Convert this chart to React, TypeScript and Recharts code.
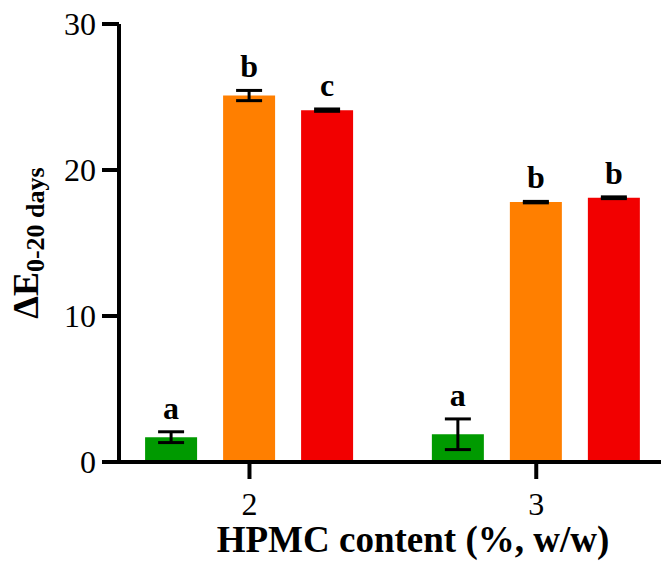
import React from 'react'
import { Bar, BarChart, ErrorBar, LabelList, XAxis, YAxis } from 'recharts'

// HPMC content (%, w/w)
const categories = [2, 3]

const greenValues = [1.7, 1.9]
const greenErrors = [0.37, 1.05]
const greenLetters = ['a', 'a']

const orangeValues = [25.1, 17.8]
const orangeErrors = [0.35, 0.05]
const orangeLetters = ['b', 'b']

const redValues = [24.1, 18.1]
const redErrors = [0.08, 0.06]
const redLetters = ['c', 'b']

const yTicks = [0, 10, 20, 30]

const data = categories.map((cat, i) => ({
  cat,
  green: greenValues[i],
  greenErr: greenErrors[i],
  greenLetter: greenLetters[i],
  orange: orangeValues[i],
  orangeErr: orangeErrors[i],
  orangeLetter: orangeLetters[i],
  red: redValues[i],
  redErr: redErrors[i],
  redLetter: redLetters[i],
}))

const FONT = '"Liberation Serif", "Times New Roman", serif'

// letter sits a little above the top of the error bar
const letterLabel = (values: number[], errors: number[]) => (props: any) => {
  const vb = props.viewBox ?? props
  const { x, y, width, height } = vb
  const i = props.index
  const pxPerUnit = Math.abs(height) / values[i]
  const top = y - errors[i] * pxPerUnit
  return (
    <text
      x={x + width / 2}
      y={top - 13}
      textAnchor="middle"
      fontFamily={FONT}
      fontWeight="bold"
      fontSize={32}
      fill="#000"
    >
      {props.value}
    </text>
  )
}

const YLabel = (props: any) => {
  const { x, y, height } = props.viewBox
  const bx = x + 38
  const cy = y + height / 2
  return (
    <text
      x={bx}
      y={cy}
      transform={`rotate(-90, ${bx}, ${cy})`}
      textAnchor="middle"
      fontFamily={FONT}
      fontWeight="bold"
      fill="#000"
    >
      <tspan fontSize={36}>ΔE</tspan>
      <tspan fontSize={26} dy={6}>0-20 days</tspan>
    </text>
  )
}

const XLabel = (props: any) => {
  const { x, y, width } = props.viewBox
  return (
    <text
      x={x + width / 2 + 23}
      y={y + 90}
      textAnchor="middle"
      fontFamily={FONT}
      fontWeight="bold"
      fontSize={37}
      fill="#000"
    >
      HPMC content (%, w/w)
    </text>
  )
}

const tickStyle = { fontFamily: FONT, fontSize: 32, fill: '#000' }
const axisStroke = { stroke: '#000', strokeWidth: 4 }

export default function App() {
  return (
    <div style={{ position: 'absolute', left: 0, top: 0, background: '#fff' }}>
      <BarChart
        width={662}
        height={564}
        data={data}
        margin={{ top: 24, right: 1, left: 0, bottom: 0 }}
        barGap={26}
      >
        <XAxis
          dataKey="cat"
          type="number"
          domain={[1.545, 3.435]}
          ticks={categories}
          allowDataOverflow
          height={102}
          tickSize={17}
          tickMargin={13}
          tick={tickStyle}
          axisLine={axisStroke}
          tickLine={axisStroke}
          label={<XLabel />}
        />
        <YAxis
          domain={[0, 30]}
          ticks={yTicks}
          width={119}
          tickSize={17}
          tickMargin={6}
          tick={tickStyle}
          axisLine={axisStroke}
          tickLine={axisStroke}
          label={<YLabel />}
        />
        <Bar dataKey="green" fill="#009A00" barSize={52} isAnimationActive={false}>
          <ErrorBar dataKey="greenErr" width={13} stroke="#000" strokeWidth={3} direction="y" />
          <LabelList dataKey="greenLetter" content={letterLabel(greenValues, greenErrors)} />
        </Bar>
        <Bar dataKey="orange" fill="#FF7F00" barSize={52} isAnimationActive={false}>
          <ErrorBar dataKey="orangeErr" width={13} stroke="#000" strokeWidth={3} direction="y" />
          <LabelList dataKey="orangeLetter" content={letterLabel(orangeValues, orangeErrors)} />
        </Bar>
        <Bar dataKey="red" fill="#F20000" barSize={52} isAnimationActive={false}>
          <ErrorBar dataKey="redErr" width={13} stroke="#000" strokeWidth={3} direction="y" />
          <LabelList dataKey="redLetter" content={letterLabel(redValues, redErrors)} />
        </Bar>
      </BarChart>
    </div>
  )
}
